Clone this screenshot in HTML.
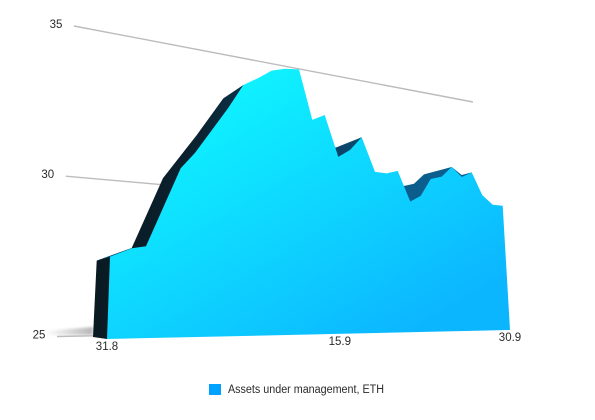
<!DOCTYPE html>
<html lang="en">
<head>
<meta charset="utf-8">
<title>Assets under management, ETH</title>
<style>
html,body{margin:0;padding:0;background:#fff;}
#chart{display:block;width:595px;height:420px;font-family:"Liberation Sans",sans-serif;}
text{fill:#2a2a2a;font-size:11.5px;}
</style>
</head>
<body>
<svg id="chart" xmlns="http://www.w3.org/2000/svg" width="595" height="420" viewBox="0 0 595 420">
  <defs>
    <linearGradient id="frontFill" gradientUnits="userSpaceOnUse" x1="240" y1="70" x2="400" y2="340">
      <stop offset="0" stop-color="#0ff4ff"/>
      <stop offset="1" stop-color="#0cb6ff"/>
    </linearGradient>
    <linearGradient id="rearFill" gradientUnits="userSpaceOnUse" x1="93" y1="0" x2="470" y2="0">
      <stop offset="0" stop-color="#0a1a22"/>
      <stop offset="0.28" stop-color="#0b2230"/>
      <stop offset="0.4" stop-color="#0c3048"/>
      <stop offset="0.65" stop-color="#0b4468"/>
      <stop offset="0.84" stop-color="#0b5e8c"/>
      <stop offset="1" stop-color="#0b5e90"/>
    </linearGradient>
    <linearGradient id="shadowFill" gradientUnits="userSpaceOnUse" x1="45" y1="0" x2="93" y2="0">
      <stop offset="0" stop-color="#aaa" stop-opacity="0"/>
      <stop offset="1" stop-color="#aaa" stop-opacity="0.85"/>
    </linearGradient>
    <filter id="soft" x="-20%" y="-60%" width="140%" height="220%"><feGaussianBlur stdDeviation="1.2"/></filter>
  </defs>
  <polygon points="45,331 93,327 93,335 45,335" fill="url(#shadowFill)" filter="url(#soft)"/>
  <g id="grid"></g>
  <g id="yLabels"></g>
  <g id="marks"></g>
  <g id="xLabels"></g>
  <rect x="209" y="384" width="12" height="11" fill="#00a2ff"/>
  <text x="228" y="393" textLength="156" lengthAdjust="spacingAndGlyphs">Assets under management, ETH</text>
</svg>
<script>
// Front face series: position along the x axis (0-100) and value.
const xValues = [0,4.28,7.19,14.15,17.23,24.70,28.22,31.85,35.16,38.51,42.09,45.39,48.66,52.06,55.24,58.51,61.93,65.19,68.34,71.64,74.74,77.89,81.23,84.44,87.42,90.59,93.59,96.77,100];
const values = [27.51,27.79,27.87,30.48,31.04,32.73,33.62,33.95,34.29,34.43,34.48,32.63,32.87,31.34,31.64,32.17,30.89,30.87,31.00,29.85,30.10,30.79,30.92,31.34,30.97,31.19,30.30,29.94,29.92];
// Rear face outline of the extrusion.
const rearX = [-2.70,-2.57,4.28,10.38,17.55,23.52,28.22,51.42,58.51,59.83,70.08,72.92,75.96,84.44,87.42,90.59,90.59,0];
const rearValues = [25.07,27.38,27.80,30.11,31.66,33.05,33.62,31.68,32.17,30.00,30.44,30.55,30.95,31.34,31.05,31.19,27.00,25];
// Top sliver at the left end of the extrusion.
const capX = [-2.57,4.28,0];
const capValues = [27.38,27.80,27.51];
// Axis ticks.
const yTicks = [25,30,35];
const xTickPositions = [0,51.6,100];
const xTickLabels = ["31.8","15.9","30.9"];
const baseValue = 25;

// Projective map from the unit square to a screen quad.
function homography(p00,p10,p01,p11){
  const dx1=[p10[0]-p11[0],p10[1]-p11[1]], dx2=[p01[0]-p11[0],p01[1]-p11[1]];
  const s=[p00[0]-p10[0]+p11[0]-p01[0],p00[1]-p10[1]+p11[1]-p01[1]];
  const D=dx1[0]*dx2[1]-dx1[1]*dx2[0];
  const g=(s[0]*dx2[1]-s[1]*dx2[0])/D, h=(dx1[0]*s[1]-dx1[1]*s[0])/D;
  const a=p10[0]-p00[0]+g*p10[0], b=p01[0]-p00[0]+h*p01[0], c=p00[0];
  const d=p10[1]-p00[1]+g*p10[1], e=p01[1]-p00[1]+h*p01[1], f=p00[1];
  return function(u,t){
    const w=g*u+h*t+1;
    return [(a*u+b*t+c)/w,(d*u+e*t+f)/w];
  };
}
const frontPlane = homography([107,339],[510,330],[118.3,29],[495.6,85]);
const wallPlane = homography([57,336.5],[480,328],[74,26],[473,102]);
function xScale(x){ return x/100; }
function yScale(v){ return (v-25)/10; }
function front(x,v){ return frontPlane(xScale(x),yScale(v)); }
function wall(x,v){ return wallPlane(xScale(x),yScale(v)); }
function pts(list){ return list.map(function(p){return p[0].toFixed(1)+","+p[1].toFixed(1);}).join(" "); }
const NS="http://www.w3.org/2000/svg";
const gridG=document.getElementById("grid"), yG=document.getElementById("yLabels"), xG=document.getElementById("xLabels"), marks=document.getElementById("marks");

yTicks.forEach(function(tick){
  const a=wall(0,tick), b=wall(tick===baseValue?8.5:100,tick);
  const line=document.createElementNS(NS,"line");
  
  
  line.setAttribute("x1",a[0]);line.setAttribute("y1",a[1]);
  line.setAttribute("x2",b[0]);line.setAttribute("y2",b[1]);
  line.setAttribute("stroke","#bcbcbc");
  line.setAttribute("stroke-width","1.4");
  gridG.appendChild(line);
  const label=document.createElementNS(NS,"text");
  
  
  label.setAttribute("x",a[0]-18);
  label.setAttribute("y",a[1]+2);
  label.setAttribute("text-anchor","middle");
  label.textContent=String(tick);
  yG.appendChild(label);
});

const rear=document.createElementNS(NS,"polygon");


rear.setAttribute("points",pts(rearX.map(function(x,i){return front(x,rearValues[i]);})));
rear.setAttribute("fill","url(#rearFill)");
marks.appendChild(rear);

const cap=document.createElementNS(NS,"polygon");


cap.setAttribute("points",pts(capX.map(function(x,i){return front(x,capValues[i]);})));
cap.setAttribute("fill","#0b5e92");
marks.appendChild(cap);

const outline=[front(xValues[0],baseValue)].concat(xValues.map(function(x,i){return front(x,values[i]);}),[front(xValues[xValues.length-1],baseValue)]);
const area=document.createElementNS(NS,"polygon");


area.setAttribute("points",pts(outline));
area.setAttribute("fill","url(#frontFill)");
marks.appendChild(area);

xTickPositions.forEach(function(x,i){
  const p=front(x,baseValue);
  const label=document.createElementNS(NS,"text");
  
  
  label.setAttribute("x",p[0]);
  label.setAttribute("y",p[1]+11);
  label.setAttribute("text-anchor","middle");
  label.textContent=xTickLabels[i];
  xG.appendChild(label);
});
</script>
</body>
</html>
